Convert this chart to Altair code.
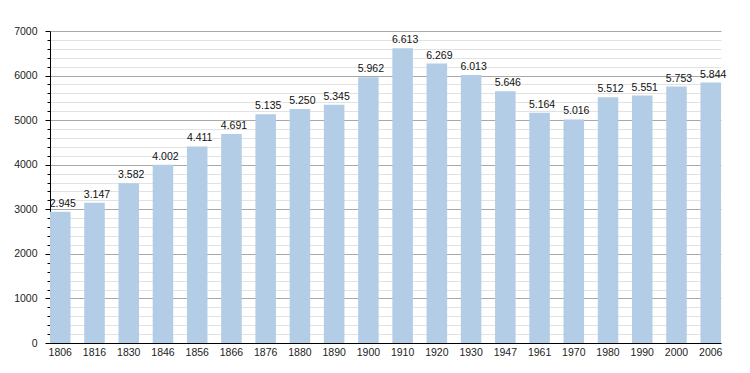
import altair as alt
import pandas as pd

years = ["1806", "1816", "1830", "1846", "1856", "1866", "1876", "1880", "1890", "1900",
         "1910", "1920", "1930", "1947", "1961", "1970", "1980", "1990", "2000", "2006"]
population = [2945, 3147, 3582, 4002, 4411, 4691, 5135, 5250, 5345, 5962,
              6613, 6269, 6013, 5646, 5164, 5016, 5512, 5551, 5753, 5844]
y_ticks = list(range(0, 7001, 200))

df = pd.DataFrame({
    "year": years,
    "pop": population,
    "label": [f"{v:,}".replace(",", ".") for v in population],
})

FONT = "Liberation Sans"
FS = 10.5

x_enc = alt.X("year:N", sort=years,
              scale=alt.Scale(paddingInner=0.4, paddingOuter=0),
              axis=alt.Axis(title=None, labelAngle=0, ticks=False, domainColor="#000000",
                            labelFont=FONT, labelFontSize=FS, labelColor="#222222",
                            labelPadding=4))
y_enc = alt.Y("pop:Q", scale=alt.Scale(domain=[0, 7000], nice=False),
              axis=alt.Axis(title=None, values=y_ticks, tickCount=len(y_ticks),
                            domainColor="#000000", tickColor="#000000",
                            tickSize={"condition": {"test": "datum.value % 1000 === 0", "value": 5}, "value": 3},
                            gridColor={"condition": {"test": "datum.value % 1000 === 0", "value": "#a8a8a8"}, "value": "#e2e2e2"},
                            labelExpr="datum.value % 1000 === 0 ? datum.value : ''",
                            labelOverlap=False, labelFont=FONT, labelFontSize=FS,
                            labelColor="#222222", labelPadding=8))

bars = alt.Chart(df).mark_bar(color="#b3cde6").encode(x=x_enc, y=y_enc)
text = alt.Chart(df).mark_text(font=FONT, fontSize=FS, color="#111111", dx=2.5, dy=-5,
                               baseline="alphabetic").encode(
    x=alt.X("year:N", sort=years), y="pop:Q", text="label:N")

chart = alt.layer(bars, text).properties(
    width=671, height=312,
    autosize="none",
    padding={"left": 42, "top": 23, "right": 10, "bottom": 22},
).configure_view(stroke=None).configure_axis(grid=True).configure_axisX(grid=False)

chart.save("out.html", embed_options={"renderer": "svg", "actions": False})
